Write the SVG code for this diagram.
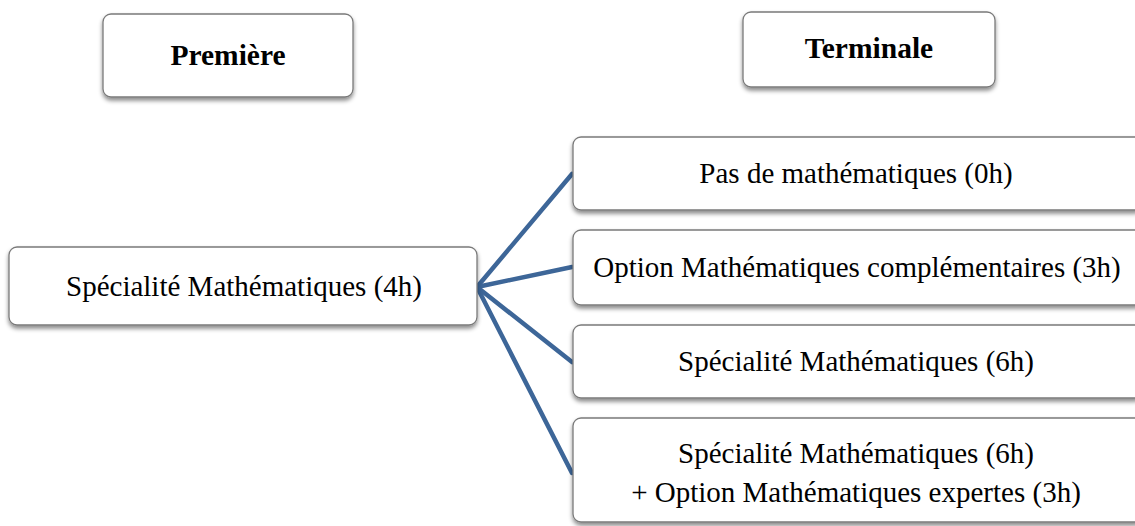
<svg xmlns="http://www.w3.org/2000/svg" width="1135" height="526" viewBox="0 0 1135 526">
<defs>
<filter id="sh" x="-10%" y="-20%" width="120%" height="150%">
<feDropShadow dx="0" dy="3" stdDeviation="2" flood-color="#000" flood-opacity="0.45"/>
</filter>
<style>
.box{fill:#fff;stroke:#7a7a7a;stroke-width:1.3;filter:url(#sh)}
.t{font-family:"Liberation Serif","Times New Roman",serif;font-size:29px;fill:#000;text-anchor:middle}
.h{font-family:"Liberation Serif","Times New Roman",serif;font-size:29.5px;font-weight:bold;fill:#000;text-anchor:middle}
.c{stroke:#3d6698;stroke-width:4.5;fill:none;stroke-linecap:round}
</style>
</defs>
<rect width="1135" height="526" fill="#fff"/>
<g id="connectors">
<line class="c" x1="477" y1="287" x2="572" y2="174"/>
<line class="c" x1="477" y1="287" x2="572" y2="267"/>
<line class="c" x1="477" y1="287" x2="572" y2="362"/>
<line class="c" x1="477" y1="287" x2="572" y2="473"/>
</g>
<g id="premiere">
<rect class="box" x="103" y="14" width="250" height="83" rx="8"/>
<text class="h" x="228" y="65">Première</text>
</g>
<g id="terminale">
<rect class="box" x="743" y="12" width="252" height="75" rx="8"/>
<text class="h" x="869" y="58">Terminale</text>
</g>
<g id="spe4">
<rect class="box" x="9" y="247" width="468" height="78" rx="8"/>
<text class="t" x="244" y="296">Spécialité Mathématiques (4h)</text>
</g>
<g id="pasmaths">
<rect class="box" x="573" y="137" width="570" height="73" rx="8"/>
<text class="t" x="856" y="183">Pas de mathématiques (0h)</text>
</g>
<g id="optcomp">
<rect class="box" x="573" y="230" width="570" height="75" rx="8"/>
<text class="t" x="857" y="277">Option Mathématiques complémentaires (3h)</text>
</g>
<g id="spe6">
<rect class="box" x="573" y="325" width="570" height="73" rx="8"/>
<text class="t" x="856" y="371">Spécialité Mathématiques (6h)</text>
</g>
<g id="spe6exp">
<rect class="box" x="573" y="418" width="570" height="104" rx="8"/>
<text class="t" x="856" y="463">Spécialité Mathématiques (6h)</text>
<text class="t" x="856" y="502">+ Option Mathématiques expertes (3h)</text>
</g>
</svg>
